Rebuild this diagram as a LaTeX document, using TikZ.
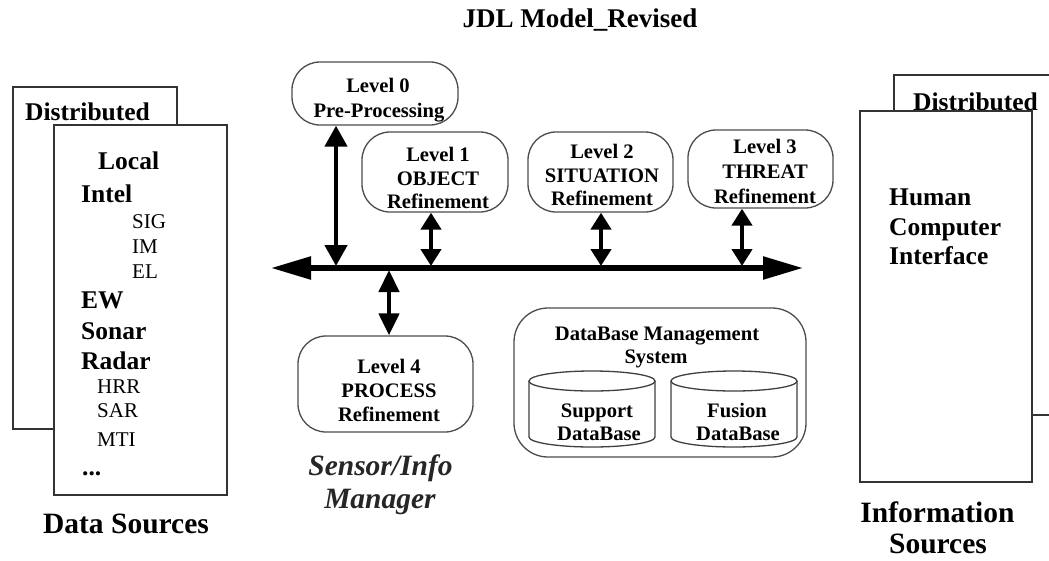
\documentclass[tikz,border=0pt]{standalone}
\usepackage{fontspec}
\setmainfont{Liberation Serif}
\usetikzlibrary{arrows.meta}
\begin{document}
\begin{tikzpicture}[x=1pt,y=-1pt,
  srcbox/.style={draw=black!80, line width=1.8pt, fill=white, inner sep=0pt, anchor=north west},
  lvlbox/.style={draw=black!70, line width=1.3pt, rounded corners=28pt, fill=white, inner sep=0pt},
  lvltxt/.style={font=\bfseries\fontsize{20.6}{24}\selectfont, anchor=base, inner sep=0pt},
  bigtxt/.style={font=\bfseries\fontsize{25.5}{30}\selectfont, anchor=base west, inner sep=0pt},
  subtxt/.style={font=\fontsize{21}{24}\selectfont, anchor=base west, inner sep=0pt},
  captxt/.style={font=\bfseries\fontsize{29.5}{34}\selectfont, anchor=base, inner sep=0pt},
  mgrtxt/.style={font=\bfseries\itshape\fontsize{29.5}{34}\selectfont, text=black!85, anchor=base, inner sep=0pt},
  cyl/.style={draw=black!75, line width=1.3pt},
  link/.style={line width=4.5pt, {Triangle[length=17pt,width=20pt]}-{Triangle[length=17pt,width=20pt]}},
  longlink/.style={line width=4.5pt, {Triangle[length=21pt,width=22pt]}-{Triangle[length=21pt,width=22pt]}},
  bus/.style={line width=5.5pt, {Triangle[length=40pt,width=22pt]}-{Triangle[length=40pt,width=22pt]}}]
\useasboundingbox (0,0) rectangle (1049,560);
\clip (0,0) rectangle (1049,560);

% title
\node[font=\bfseries\fontsize{27}{32}\selectfont, anchor=base, inner sep=0pt] (title) at (580,27) {JDL Model\_Revised};

% data sources (left)
\node[srcbox, minimum width=164pt, minimum height=342pt] (dsback) at (12,86) {};
\node[bigtxt] (dsdist) at (25,120) {Distributed};
\node[srcbox, minimum width=173pt, minimum height=370pt] (dsfront) at (53,124) {};
\node[bigtxt] (loc) at (98,169) {Local};
\node[bigtxt] (intel) at (81,202) {Intel};
\node[subtxt] (sig) at (132,228) {SIG};
\node[subtxt] (im) at (132,253) {IM};
\node[subtxt] (el) at (132,278) {EL};
\node[bigtxt] (ew) at (81,308) {EW};
\node[bigtxt] (sonar) at (81,339) {Sonar};
\node[bigtxt] (radar) at (81,369) {Radar};
\node[subtxt] (hrr) at (97,393) {HRR};
\node[subtxt] (sar) at (97,417) {SAR};
\node[subtxt] (mti) at (97,446) {MTI};
\node[bigtxt] (dots) at (82,475) {...};
\node[captxt] (dscap) at (126,533) {Data Sources};

% information sources (right)
\node[srcbox, minimum width=180pt, minimum height=340pt] (isback) at (893,74) {};
\node[bigtxt] (isdist) at (913,110) {Distributed};
\node[srcbox, minimum width=172pt, minimum height=371pt] (isfront) at (859,110) {};
\node[bigtxt] (hum) at (889,205) {Human};
\node[bigtxt] (comp) at (889,235) {Computer};
\node[bigtxt] (intf) at (889,264) {Interface};
\node[captxt] (iscap1) at (937.5,522) {Information};
\node[captxt] (iscap2) at (938,553) {Sources};

% fusion levels
\node[lvlbox, minimum width=166pt, minimum height=63pt] (l0) at (375,93.5) {};
\node[lvltxt] (l0a) at (378,92) {Level 0};
\node[lvltxt] (l0b) at (379,117) {Pre-Processing};

\node[lvlbox, minimum width=146pt, minimum height=80pt] (l1) at (435,172) {};
\node[lvltxt] (l1a) at (438,161) {Level 1};
\node[lvltxt] (l1b) at (438,185) {OBJECT};
\node[lvltxt] (l1c) at (438,208) {Refinement};

\node[lvlbox, minimum width=145pt, minimum height=80pt] (l2) at (600.5,172) {};
\node[lvltxt] (l2a) at (602,158) {Level 2};
\node[lvltxt] (l2b) at (602,182) {SITUATION};
\node[lvltxt] (l2c) at (602,205) {Refinement};

\node[lvlbox, minimum width=145pt, minimum height=78pt] (l3) at (760.5,169) {};
\node[lvltxt] (l3a) at (765,153) {Level 3};
\node[lvltxt] (l3b) at (765,178) {THREAT};
\node[lvltxt] (l3c) at (765,203) {Refinement};

\node[lvlbox, minimum width=175pt, minimum height=96pt] (l4) at (385.5,384) {};
\node[lvltxt] (l4a) at (389,373) {Level 4};
\node[lvltxt] (l4b) at (389,397) {PROCESS};
\node[lvltxt] (l4c) at (389,421) {Refinement};

\node[mgrtxt] (mgr1) at (380.5,475) {Sensor/Info};
\node[mgrtxt] (mgr2) at (380,508) {Manager};

% database management system
\node[lvlbox, rounded corners=34pt, minimum width=292pt, minimum height=149pt] (dbms) at (660,382.5) {};
\node[lvltxt] (dbt1) at (657,340) {DataBase Management};
\node[lvltxt] (dbt2) at (656,363) {System};

\draw[cyl, fill=white] (529,381) -- (529,437) arc[start angle=180, end angle=360, x radius=63pt, y radius=10pt] -- (655,381);
\draw[cyl] (592,381) ellipse [x radius=63pt, y radius=10pt];
\draw[cyl, fill=white] (671,381) -- (671,437) arc[start angle=180, end angle=360, x radius=63pt, y radius=10pt] -- (797,381);
\draw[cyl] (734,381) ellipse [x radius=63pt, y radius=10pt];
\node[lvltxt] (sdb1) at (597,417) {Support};
\node[lvltxt] (sdb2) at (599,440) {DataBase};
\node[lvltxt] (fdb1) at (737,417) {Fusion};
\node[lvltxt] (fdb2) at (738,440) {DataBase};

% bus and its links
\coordinate (busL) at (271,268);
\coordinate (busR) at (803,268);
\draw[bus] (busL) -- (busR);
\coordinate (t0) at (336,266);
\coordinate (t1) at (431,266);
\coordinate (t2) at (601,266);
\coordinate (t3) at (742,266);
\coordinate (t4) at (389,270);
\draw[longlink] (l0.south -| t0) -- (t0);
\draw[link] (l1.south -| t1) -- (t1);
\draw[link] (l2.south -| t2) -- (t2);
\draw[link] (l3.south -| t3) -- (t3);
\draw[link, {Triangle[length=22pt,width=20pt]}-{Triangle[length=22pt,width=20pt]}] (t4) -- (l4.north -| t4);
\end{tikzpicture}
\end{document}
